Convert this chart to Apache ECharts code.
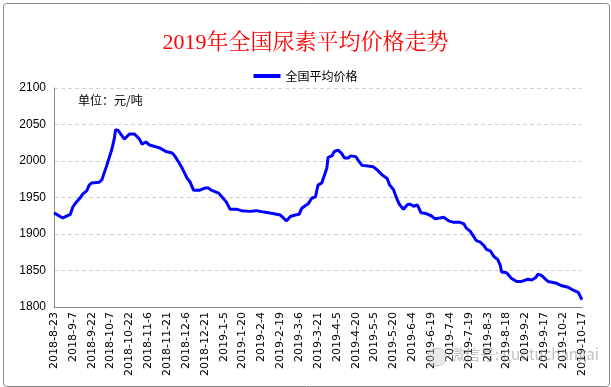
<!DOCTYPE html>
<html>
<head>
<meta charset="utf-8">
<script src="https://cdn.jsdelivr.net/npm/echarts@6/dist/echarts.min.js"></script>
<style>
html,body{margin:0;padding:0;background:#fff;}
#c{width:611px;height:387px;}
</style>
</head>
<body>
<div id="c"></div>
<script>
// Start date of the x axis (day offset 0)
const startDate = [2018, 8, 23];
// Day offsets from 2018-8-23 of the sampled points
const dayOffsets = [0,7,13,15,17,21,23,26,28,30,36,38,42,46,48,49,51,56,60,64,68,70,73,76,84,89,94,96,99,102,106,108,111,116,120,123,125,131,134,137,140,145,149,156,161,167,174,180,183,185,188,192,195,197,200,202,205,208,210,213,216,217,218,221,223,226,229,231,234,236,240,242,245,250,254,257,261,265,267,270,273,275,278,281,283,286,289,292,296,300,303,307,310,314,318,323,326,328,331,334,336,339,342,344,347,350,353,355,356,360,364,368,372,377,380,383,385,388,391,393,399,404,409,413,417,420];
// 全国平均价格 (元/吨)
const avgPrice = [1929,1922,1927,1937,1942,1950,1955,1959,1967,1970,1971,1974,1994,2016,2031,2043,2042,2030,2037,2037,2030,2023,2026,2022,2018,2013,2011,2007,1999,1990,1976,1972,1960,1960,1963,1963,1960,1956,1950,1944,1934,1934,1932,1931,1932,1930,1928,1926,1921,1918,1924,1926,1927,1935,1939,1941,1949,1951,1967,1970,1985,1990,2005,2007,2013,2015,2010,2004,2004,2007,2006,2001,1994,1993,1992,1988,1981,1976,1967,1961,1947,1940,1934,1940,1941,1938,1940,1929,1928,1925,1921,1922,1923,1918,1916,1916,1914,1908,1904,1896,1891,1889,1884,1879,1877,1869,1865,1857,1848,1847,1839,1835,1835,1838,1837,1840,1845,1843,1838,1835,1833,1829,1827,1823,1820,1810];
const yTicks = [1800, 2100, 50];
const xSpan = [0, 420, 15];

const t0 = Date.UTC(startDate[0], startDate[1]-1, startDate[2]);
function dayLabel(d){
  const dt = new Date(t0 + d*86400000);
  return dt.getUTCFullYear() + '-' + (dt.getUTCMonth()+1) + '-' + dt.getUTCDate();
}
const seriesData = dayOffsets.map((d,i)=>[d, avgPrice[i]]);

const chart = echarts.init(document.getElementById('c'));
chart.setOption({
  animation:false,
  backgroundColor:'#fff',
  title:{
    text:'2019年全国尿素平均价格走势',
    left:'center', top:27,
    textStyle:{color:'#ff0000', fontSize:22, fontWeight:'normal', fontFamily:'"Liberation Serif","Noto Serif CJK SC","Noto Sans CJK SC",serif'}
  },
  legend:{
    top:65, left:'center',
    itemWidth:27, itemHeight:4, itemGap:4,
    icon:'rect',
    textStyle:{fontSize:12, color:'#000', fontFamily:'"Noto Sans CJK SC",sans-serif'},
    data:['全国平均价格']
  },
  grid:{left:54, right:29, top:88, bottom:80, containLabel:false},
  xAxis:{
    type:'value', min:xSpan[0], max:xSpan[1], interval:xSpan[2],
    axisLine:{lineStyle:{color:'#888', width:1}},
    axisTick:{show:false},
    splitLine:{show:false},
    axisLabel:{rotate:90, fontSize:11, color:'#000', margin:5,
      fontFamily:'"DejaVu Sans",sans-serif',
      formatter:(v)=>dayLabel(v)}
  },
  yAxis:{
    type:'value', min:yTicks[0], max:yTicks[1], interval:yTicks[2],
    axisLine:{show:true, lineStyle:{color:'#888', width:1}},
    axisTick:{show:false},
    splitLine:{show:true, lineStyle:{color:'#d0d0d0', type:[4,3], width:1}},
    axisLabel:{fontSize:12, color:'#000', margin:8, fontFamily:'"Liberation Sans",Arial,sans-serif',
      formatter:(v)=>String(v)}
  },
  series:[{
    name:'全国平均价格', type:'line',
    data:seriesData,
    showSymbol:false, symbol:'none',
    lineStyle:{color:'#0000ff', width:3},
    itemStyle:{color:'#0000ff'}
  }],
  graphic:[
    {type:'rect', left:1, top:1, shape:{width:606, height:383, r:3}, style:{fill:'none', stroke:'#888', lineWidth:1}, z:-1},
    {type:'text', left:78, top:94, style:{text:'单位：元/吨', fontSize:12, fill:'#000', fontFamily:'"Noto Sans CJK SC",sans-serif'}},
    {type:'text', left:450, top:347, style:{text:'微信号: guotuchangai', fontSize:15, fill:'rgba(140,140,140,0.55)', fontFamily:'"Noto Sans CJK SC",sans-serif'}, z:100},
    {type:'circle', shape:{cx:437, cy:357, r:9}, style:{fill:'rgba(200,200,200,0.4)', stroke:'rgba(160,160,160,0.5)'}, z:100}
  ]
});
</script>
</body>
</html>
